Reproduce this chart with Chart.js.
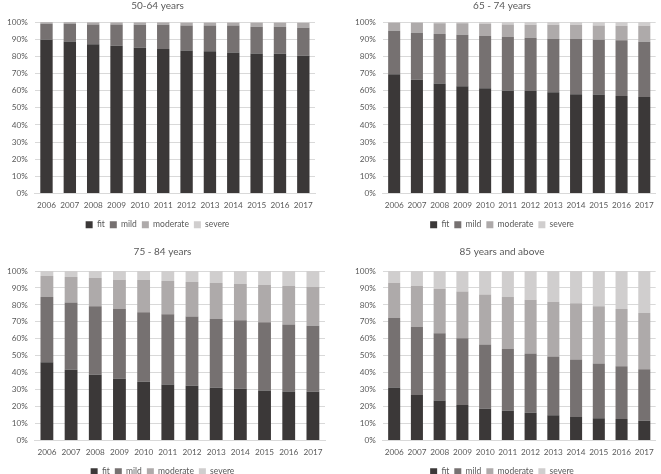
<!DOCTYPE html>
<html>
<head>
<meta charset="utf-8">
<script src="https://cdn.jsdelivr.net/npm/chart.js@4"></script>
<style>
  body { margin: 0; background: #fff; overflow: hidden; }
  .panel { position: absolute; }
</style>
</head>
<body>
<div class="panel" style="left:0;top:0;width:330px;height:237px"><canvas id="c1"></canvas></div>
<div class="panel" style="left:330px;top:0;width:331px;height:237px"><canvas id="c2"></canvas></div>
<div class="panel" style="left:0;top:237px;width:330px;height:248px"><canvas id="c3"></canvas></div>
<div class="panel" style="left:330px;top:237px;width:331px;height:248px"><canvas id="c4"></canvas></div>
<script>
var years = ['2006', '2007', '2008', '2009', '2010', '2011', '2012', '2013', '2014', '2015', '2016', '2017'];
var yTicks = [0, 10, 20, 30, 40, 50, 60, 70, 80, 90, 100];

// 50-64 years
var fit50 = [89.6, 88.6, 87.0, 86.2, 85.0, 84.2, 83.4, 83.0, 82.2, 81.7, 81.5, 80.3];
var mild50 = [9.4, 10.4, 11.6, 12.4, 13.4, 14.2, 14.6, 15.0, 15.8, 15.5, 15.7, 16.3];
var moderate50 = [0.8, 0.8, 1.1, 1.1, 1.3, 1.3, 1.6, 1.6, 1.6, 2.3, 2.3, 2.8];
var severe50 = [0.2, 0.2, 0.3, 0.3, 0.3, 0.3, 0.4, 0.4, 0.4, 0.5, 0.5, 0.6];

// 65 - 74 years
var fit65 = [69.5, 66.3, 64.2, 62.6, 61.4, 59.9, 59.7, 59.1, 57.9, 57.7, 56.8, 56.2];
var mild65 = [25.4, 27.4, 28.8, 30.0, 30.4, 31.3, 31.1, 31.1, 32.3, 31.9, 32.6, 32.3];
var moderate65 = [4.7, 5.8, 6.2, 6.6, 7.2, 7.3, 7.6, 8.2, 8.2, 8.3, 8.4, 9.3];
var severe65 = [0.4, 0.5, 0.8, 0.8, 1.0, 1.5, 1.6, 1.6, 1.6, 2.1, 2.2, 2.2];

// 75 - 84 years
var fit75 = [46.1, 41.8, 38.8, 36.4, 34.7, 33.1, 32.3, 31.1, 30.5, 29.5, 28.9, 28.7];
var mild75 = [38.5, 39.6, 40.4, 41.2, 40.9, 41.4, 40.8, 40.6, 40.4, 40.2, 39.6, 39.0];
var moderate75 = [12.4, 15.0, 16.6, 17.3, 19.1, 19.6, 20.4, 21.2, 21.4, 22.0, 22.6, 22.8];
var severe75 = [3.0, 3.6, 4.2, 5.1, 5.3, 5.9, 6.5, 7.1, 7.7, 8.3, 8.9, 9.5];

// 85 years and above
var fit85 = [31.2, 26.8, 23.6, 21.0, 18.7, 17.5, 16.3, 14.9, 13.9, 13.1, 12.7, 11.7];
var mild85 = [41.0, 40.1, 39.7, 39.3, 38.0, 36.5, 35.1, 34.7, 33.9, 32.3, 31.1, 30.4];
var moderate85 = [20.9, 24.2, 26.2, 27.6, 29.4, 30.7, 31.7, 32.3, 33.1, 33.8, 33.8, 33.1];
var severe85 = [6.9, 8.9, 10.5, 12.1, 13.9, 15.3, 16.9, 18.1, 19.1, 20.8, 22.4, 24.8];

var colors = ['#3b3838', '#767171', '#aeaaaa', '#d0cece'];
var names = ['fit', 'mild', 'moderate', 'severe'];
var textColor = '#595959';
var fontFamily = 'Lato, "Liberation Sans", sans-serif';

function makeChart(id, title, series, pad, titleGap) {
    var ctx = document.getElementById(id).getContext('2d');
    return new Chart(ctx, {
        type: 'bar',
        data: {
            labels: years,
            datasets: series.map(function (s, i) {
                return {
                    label: names[i],
                    data: s,
                    backgroundColor: colors[i],
                    borderWidth: 0,
                    barPercentage: 0.53,
                    categoryPercentage: 1
                };
            })
        },
        options: {
            responsive: true,
            maintainAspectRatio: false,
            animation: false,
            layout: { padding: pad },
            plugins: {
                title: {
                    display: true,
                    text: title,
                    color: textColor,
                    font: { family: fontFamily, size: 10, weight: 'normal' },
                    padding: { top: 0, bottom: titleGap }
                },
                legend: {
                    position: 'bottom',
                    labels: {
                        color: textColor,
                        boxWidth: 7,
                        boxHeight: 7,
                        padding: 5,
                        font: { family: fontFamily, size: 8.5 }
                    }
                },
                tooltip: { enabled: false }
            },
            scales: {
                x: {
                    stacked: true,
                    grid: { display: false, drawTicks: false },
                    border: { color: '#d9d9d9' },
                    ticks: {
                        color: textColor,
                        font: { family: fontFamily, size: 8.2 },
                        maxRotation: 0,
                        autoSkip: false,
                        padding: 7
                    },
                    afterFit: function (axis) { axis.height = 22; }
                },
                y: {
                    stacked: true,
                    min: 0,
                    max: 100,
                    afterBuildTicks: function (axis) {
                        axis.ticks = yTicks.map(function (v) { return { value: v }; });
                    },
                    grid: { color: '#d9d9d9', drawTicks: false },
                    border: { display: false },
                    ticks: {
                        color: textColor,
                        font: { family: fontFamily, size: 8.2 },
                        padding: 7,
                        callback: function (v) { return v + '%'; }
                    }
                }
            }
        }
    });
}

makeChart('c1', '50-64 years', [fit50, mild50, moderate50, severe50], { left: 0, right: 15, top: 0, bottom: -2 }, 10);
makeChart('c2', '65 - 74 years', [fit65, mild65, moderate65, severe65], { left: 18, right: 5, top: 0, bottom: -2 }, 10);
makeChart('c3', '75 - 84 years', [fit75, mild75, moderate75, severe75], { left: 0, right: 5, top: 9, bottom: -1 }, 13);
makeChart('c4', '85 years and above', [fit85, mild85, moderate85, severe85], { left: 18, right: 5, top: 9, bottom: -1 }, 13);
</script>
</body>
</html>
